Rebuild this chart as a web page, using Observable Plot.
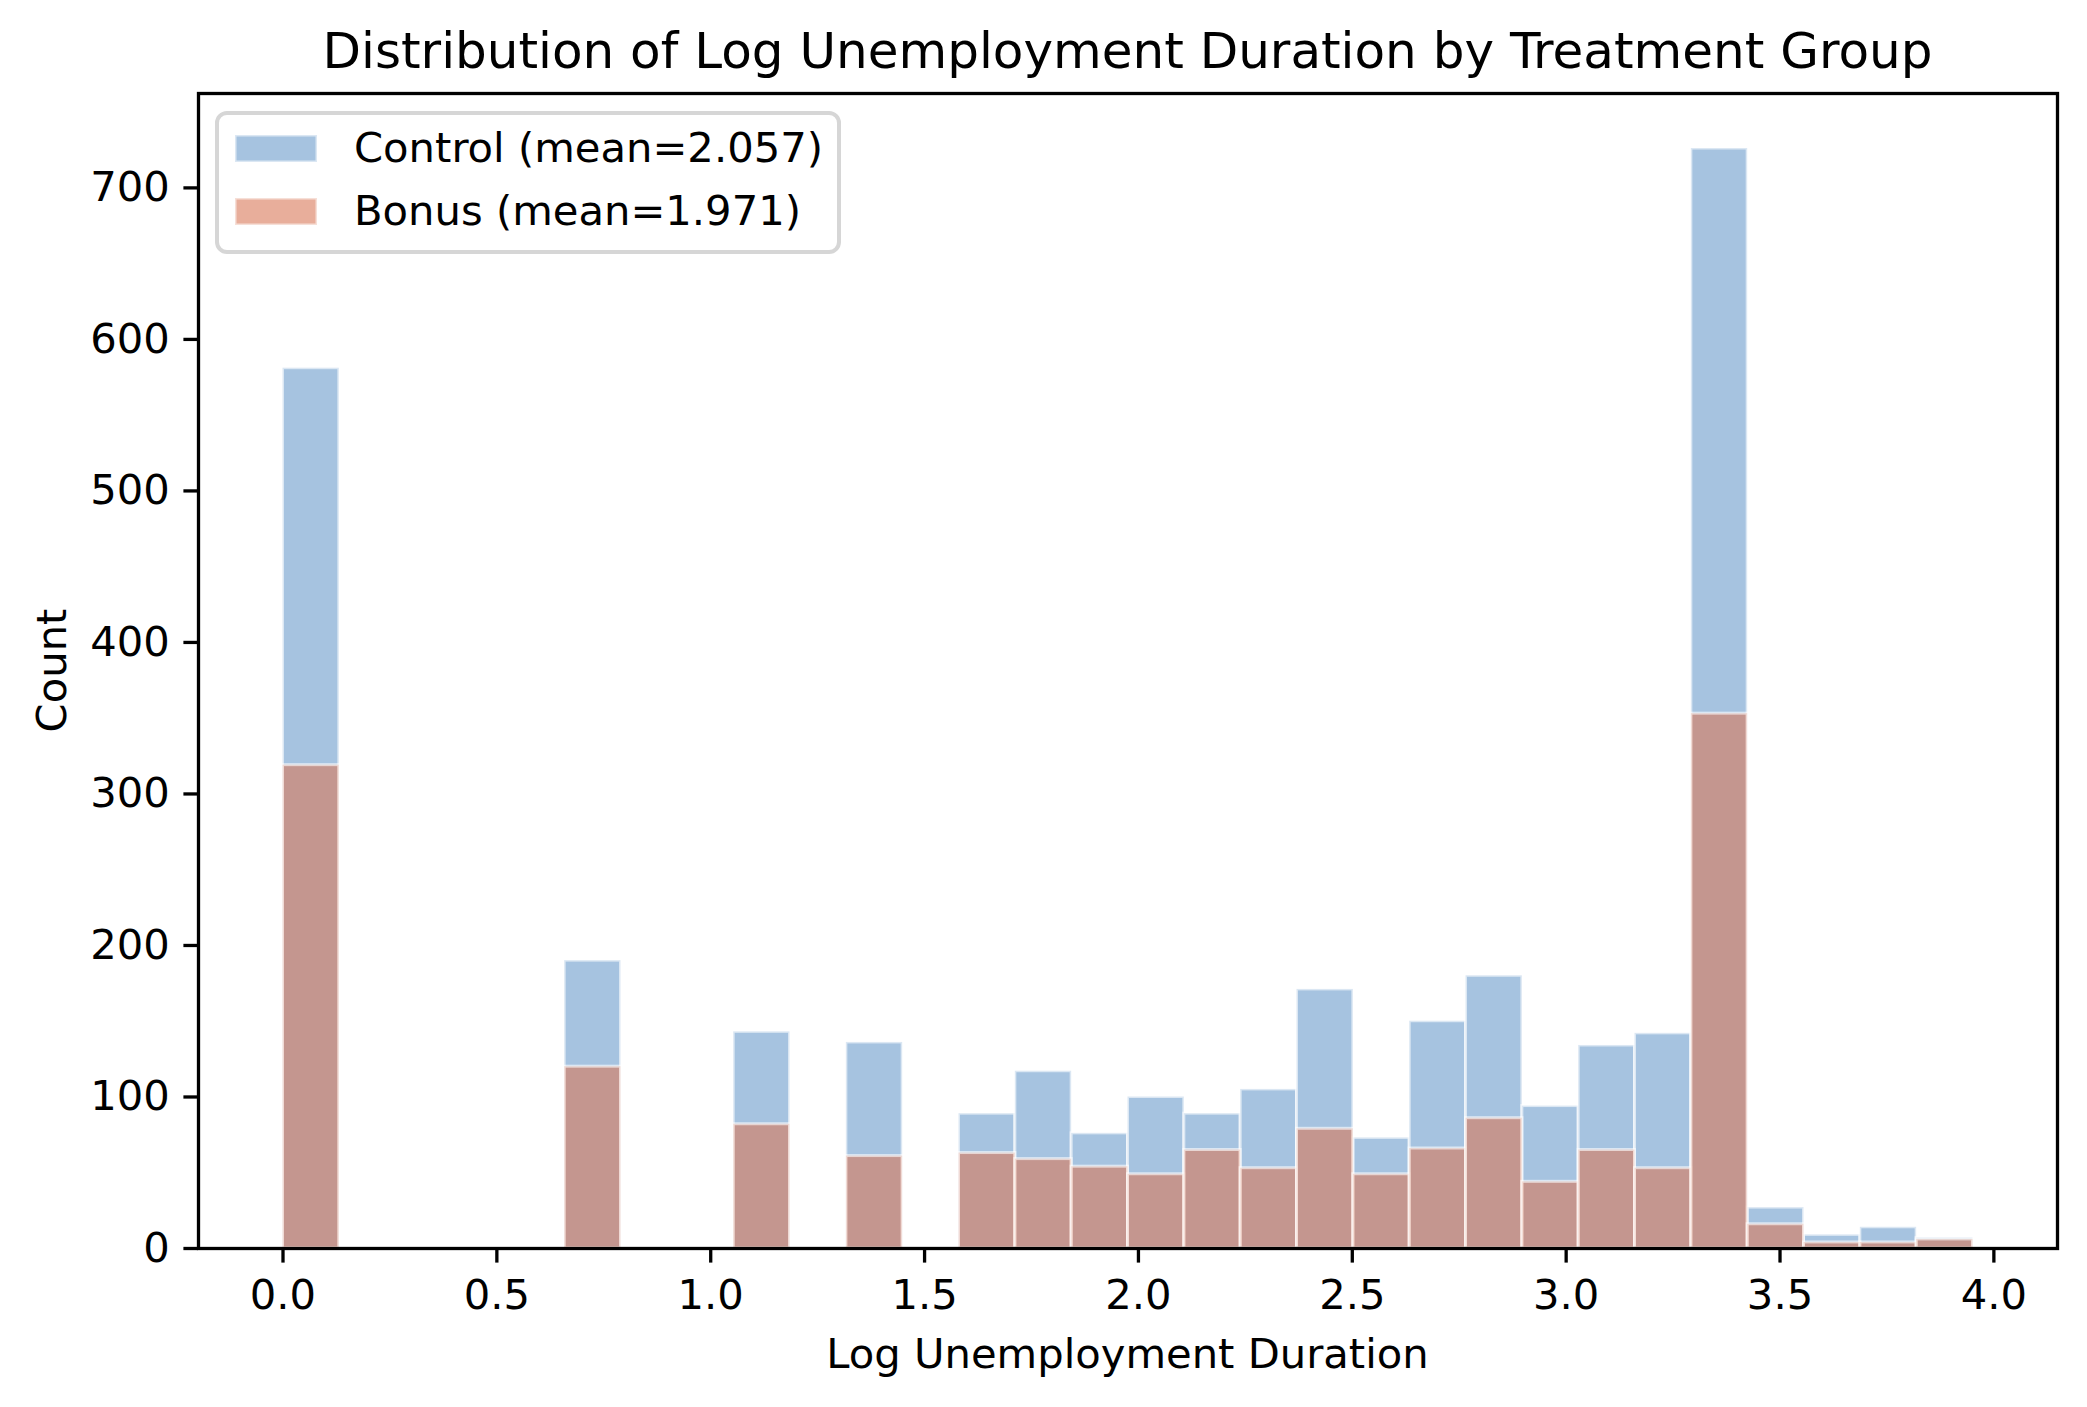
<!DOCTYPE html>
<html>
<head>
<meta charset="utf-8">
<script src="https://cdn.jsdelivr.net/npm/d3@7"></script>
<script src="https://cdn.jsdelivr.net/npm/@observablehq/plot@0.6"></script>
<style>
  html, body { margin: 0; padding: 0; background: #ffffff; }
  #chart { width: 2087px; height: 1407px; }
</style>
</head>
<body>
<div id="chart"></div>
<script>
// ---- data ----
const binEdges = [0, 0.1317, 0.2634, 0.3951, 0.5268, 0.6585, 0.7902, 0.9220, 1.0537, 1.1854,
  1.3171, 1.4488, 1.5805, 1.7122, 1.8439, 1.9756, 2.1073, 2.2390, 2.3707, 2.5025,
  2.6342, 2.7659, 2.8976, 3.0293, 3.1610, 3.2927, 3.4244, 3.5561, 3.6878, 3.8195, 3.9512];
const controlCounts = [581, 0, 0, 0, 0, 190, 0, 0, 143, 0,
  136, 0, 89, 117, 76, 100, 89, 105, 171, 73,
  150, 180, 94, 134, 142, 726, 27, 9, 14, 7];
const bonusCounts = [319, 0, 0, 0, 0, 120, 0, 0, 82, 0,
  61, 0, 63, 59, 54, 49, 65, 53, 79, 49,
  66, 86, 44, 65, 53, 353, 16, 4, 4, 6];
const groupLabels = ["Control (mean=2.057)", "Bonus (mean=1.971)"];
const xTicks = [0, 0.5, 1.0, 1.5, 2.0, 2.5, 3.0, 3.5, 4.0];
const yTicks = [0, 100, 200, 300, 400, 500, 600, 700];
const titleText = "Distribution of Log Unemployment Duration by Treatment Group";
const xLabelText = "Log Unemployment Duration";
const yLabelText = "Count";

// ---- styling ----
const controlColor = "#6b9bcc";
const bonusColor = "#d97858";
const alpha = 0.6;
const FONT = "DejaVu Sans";
const fs = 41.7;

const rows = (counts) => counts.map((c, i) => ({x1: binEdges[i], x2: binEdges[i + 1], count: c}));
const controlRows = rows(controlCounts);
const bonusRows = rows(bonusCounts);

const xMin = binEdges[0], xMax = binEdges[binEdges.length - 1];
const xPad = (xMax - xMin) * 0.05;
const yMax = d3.max(controlCounts.concat(bonusCounts)) * 1.05;

const W = 2087, H = 1407;
const mL = 198, mR = 30, mT = 93, mB = 159;

const svg = Plot.plot({
  width: W,
  height: H,
  marginLeft: mL,
  marginRight: mR,
  marginTop: mT,
  marginBottom: mB,
  style: {fontFamily: FONT, fontSize: fs + "px", color: "black", background: "white", overflow: "visible"},
  x: {domain: [xMin - xPad, xMax + xPad]},
  y: {domain: [0, yMax]},
  marks: [
    Plot.rectY(controlRows, {
      filter: d => d.count > 0,
      x1: "x1", x2: "x2", y: "count",
      fill: controlColor, fillOpacity: alpha,
      stroke: "white", strokeOpacity: alpha, strokeWidth: 3,
      inset: 0
    }),
    Plot.rectY(bonusRows, {
      filter: d => d.count > 0,
      x1: "x1", x2: "x2", y: "count",
      fill: bonusColor, fillOpacity: alpha,
      stroke: "white", strokeOpacity: alpha, strokeWidth: 3,
      inset: 0
    }),
    Plot.frame({stroke: "black", strokeWidth: 3.3}),
    Plot.axisX({ticks: xTicks, tickFormat: d3.format(".1f"), tickSize: 14.6, tickPadding: 16,
      strokeWidth: 3.3, label: null, fontSize: fs}),
    Plot.axisY({ticks: yTicks, tickFormat: d3.format("d"), tickSize: 14.6, tickPadding: 14,
      strokeWidth: 3.3, label: null, fontSize: fs})
  ]
});
document.getElementById("chart").append(svg);

// ---- title, axis labels, legend (non-data text) ----
const s = d3.select(svg);
const cx = (mL + (W - mR)) / 2;
const g = s.append("g").attr("font-family", FONT).attr("fill", "black");
g.append("text").attr("x", cx).attr("y", 68).attr("text-anchor", "middle")
  .attr("font-size", 50).text(titleText);
g.append("text").attr("x", cx).attr("y", 1368).attr("text-anchor", "middle")
  .attr("font-size", fs).text(xLabelText);
g.append("text").attr("transform", `translate(66,${(mT + H - mB) / 2}) rotate(-90)`)
  .attr("text-anchor", "middle").attr("font-size", fs).text(yLabelText);

const lg = s.append("g").attr("font-family", FONT).attr("text-anchor", "start");
lg.append("rect").attr("x", 217).attr("y", 113).attr("width", 622).attr("height", 139)
  .attr("rx", 10).attr("fill", "white").attr("fill-opacity", 0.8)
  .attr("stroke", "#d6d6d6").attr("stroke-width", 4);
const legendItems = [
  {label: groupLabels[0], color: controlColor, y: 135, base: 162},
  {label: groupLabels[1], color: bonusColor, y: 198, base: 225}
];
for (const it of legendItems) {
  lg.append("rect").attr("x", 235).attr("y", it.y).attr("width", 82).attr("height", 27)
    .attr("fill", it.color).attr("fill-opacity", alpha)
    .attr("stroke", "white").attr("stroke-opacity", alpha).attr("stroke-width", 3);
  lg.append("text").attr("x", 354).attr("y", it.base).attr("font-size", fs)
    .attr("text-anchor", "start").attr("fill", "black").text(it.label);
}
</script>
</body>
</html>
